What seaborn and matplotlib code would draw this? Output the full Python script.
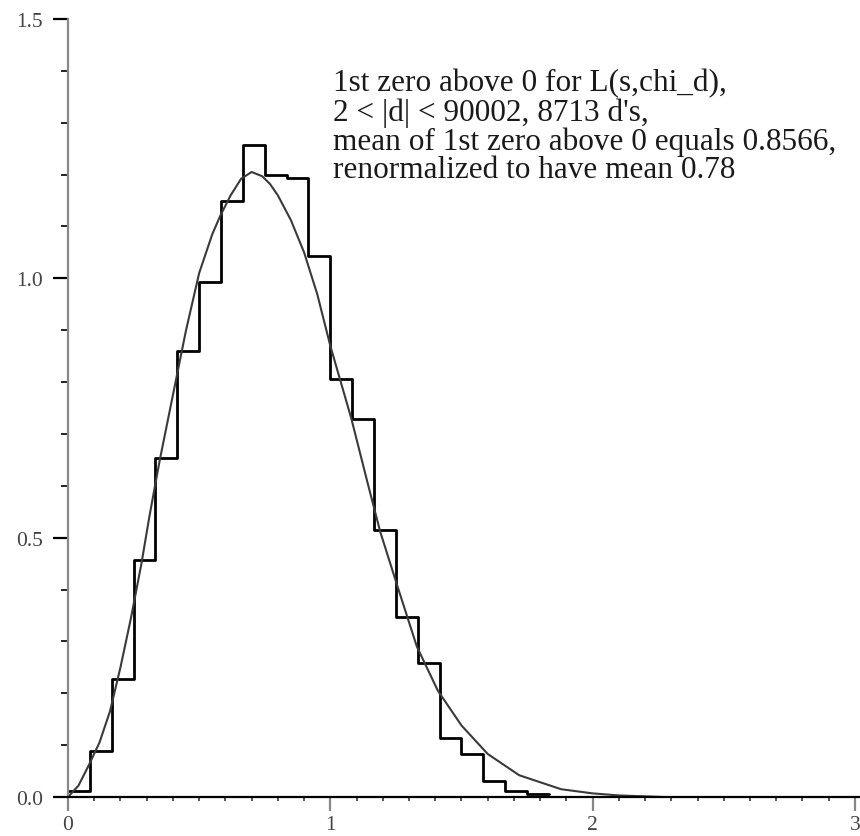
import numpy as np
import pandas as pd
import matplotlib
matplotlib.use("Agg")
import matplotlib.pyplot as plt
from matplotlib.ticker import MultipleLocator, FixedLocator
import seaborn as sns

# ---- data ----
bin_width = 1.0 / 12.0
bin_heights = [0.012, 0.089, 0.228, 0.456, 0.654, 0.860, 0.992, 1.149, 1.257,
               1.199, 1.193, 1.043, 0.805, 0.728, 0.515, 0.347, 0.259, 0.114,
               0.083, 0.031, 0.012, 0.005]

curve_x = [0.00, 0.04, 0.08, 0.12, 0.16, 0.20, 0.24, 0.28, 0.31, 0.35, 0.39,
           0.45, 0.50, 0.55, 0.58, 0.62, 0.66, 0.70, 0.74, 0.77, 0.80, 0.85,
           0.90, 0.95, 1.00, 1.04, 1.08, 1.14, 1.19, 1.26, 1.33, 1.41, 1.50,
           1.60, 1.72, 1.88, 2.00, 2.10, 2.27]
curve_y = [0.000, 0.022, 0.062, 0.105, 0.165, 0.250, 0.345, 0.450, 0.540,
           0.650, 0.750, 0.900, 1.010, 1.085, 1.120, 1.160, 1.192, 1.205,
           1.197, 1.182, 1.160, 1.112, 1.050, 0.970, 0.870, 0.800, 0.730,
           0.610, 0.512, 0.400, 0.290, 0.205, 0.138, 0.083, 0.042, 0.015,
           0.007, 0.003, 0.000]

x_ticks = [0, 1, 2, 3]
x_tick_labels = ["0", "1", "2", "3"]
y_ticks = [0.0, 0.5, 1.0, 1.5]
y_tick_labels = ["0.0", "0.5", "1.0", "1.5"]

annotation_lines = [
    "1st zero above 0 for L(s,chi_d),",
    "2 < |d| < 90002, 8713 d's,",
    "mean of 1st zero above 0 equals 0.8566,",
    "renormalized to have mean 0.78",
]

# ---- build table ----
edges = [i * bin_width for i in range(len(bin_heights) + 1)]
centers = [(edges[i] + edges[i + 1]) / 2 for i in range(len(bin_heights))]
hist_df = pd.DataFrame({"x": centers, "w": bin_heights})
curve_df = pd.DataFrame({"x": curve_x, "y": curve_y})

sns.set_style("ticks")
plt.rcParams["font.family"] = ["Liberation Serif", "DejaVu Serif"]

W, H = 860, 837
fig = plt.figure(figsize=(W / 100, H / 100), dpi=100)
x0_px, x1_px = 68, 860
y0_px, y1_px = 798, 20
ax = fig.add_axes([x0_px / W, 1 - y0_px / H, (x1_px - x0_px) / W, (y0_px - y1_px) / H])

px_per_unit_x = 262.3
xmax = (x1_px - x0_px) / px_per_unit_x

sns.histplot(x=hist_df["x"], weights=hist_df["w"], bins=edges, element="step",
             fill=False, color="black", linewidth=2.0, ax=ax)
sns.lineplot(data=curve_df, x="x", y="y", color="#3a3a3a", linewidth=1.5,
             ax=ax, sort=False)
ax.set_xlim(0, xmax)
ax.set_ylim(0, 1.5)

ax.set_xlabel("")
ax.set_ylabel("")

for s in ["top", "right"]:
    ax.spines[s].set_visible(False)
ax.spines["left"].set_color("#888888")
ax.spines["left"].set_linewidth(1.6)
ax.spines["bottom"].set_color("black")
ax.spines["bottom"].set_linewidth(1.6)
ax.spines["bottom"].set_zorder(5)

ax.xaxis.set_major_locator(FixedLocator(x_ticks))
ax.set_xticklabels(x_tick_labels)
ax.yaxis.set_major_locator(FixedLocator(y_ticks))
ax.set_yticklabels(y_tick_labels)
ax.xaxis.set_minor_locator(MultipleLocator(0.1))
ax.yaxis.set_minor_locator(MultipleLocator(0.1))

ax.tick_params(which="both", bottom=True, left=True, top=False, right=False)
ax.tick_params(axis="x", which="major", direction="out", length=10, width=1.6,
               color="#888888", labelsize=15.5, labelcolor="#444444", pad=3)
ax.tick_params(axis="x", which="minor", direction="out", length=3, width=1.4,
               color="#555555")
ax.tick_params(axis="y", which="major", direction="out", length=11, width=1.6,
               color="black", labelsize=15.5, labelcolor="#444444", pad=7)
ax.tick_params(axis="y", which="minor", direction="out", length=5, width=1.4,
               color="#222222")

line_centers_px = [84, 113, 142, 171]
for txt, py in zip(annotation_lines, line_centers_px):
    fig.text(333 / W, 1 - py / H, txt, ha="left", va="center",
             fontsize=22.5, color="#1a1a1a")

fig.savefig("out.png", dpi=100)
